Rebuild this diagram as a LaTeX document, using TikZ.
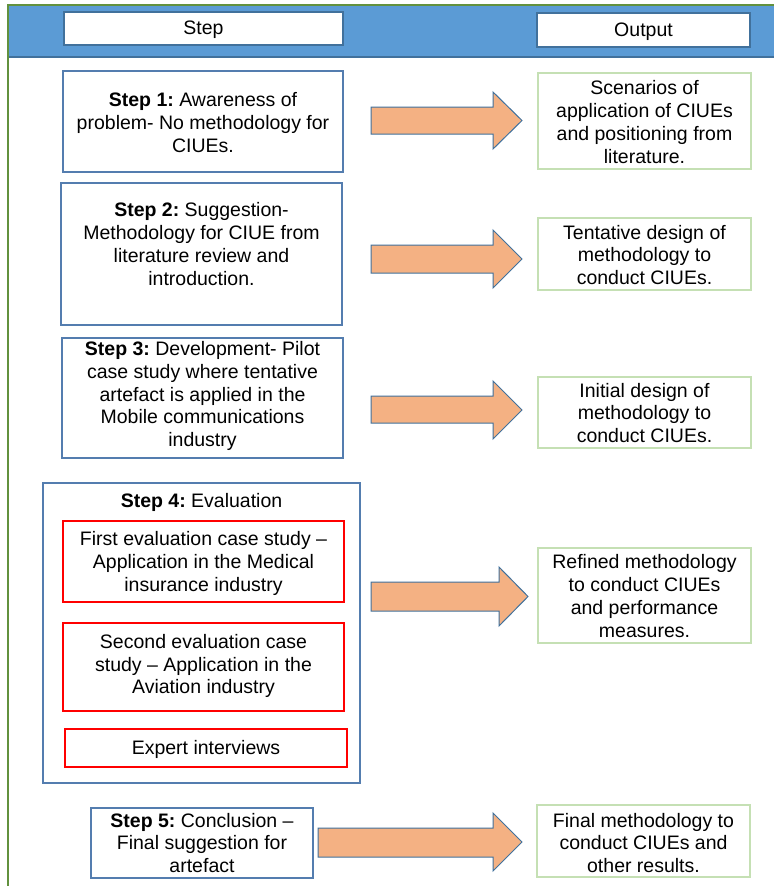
\documentclass[tikz,border=0pt]{standalone}
\usepackage{fontspec}
\setmainfont{Liberation Sans}
\frenchspacing
\definecolor{hdrblue}{RGB}{91,155,213}
\definecolor{hdrborder}{RGB}{65,113,156}
\definecolor{framegreen}{RGB}{98,145,62}
\definecolor{stepblue}{RGB}{84,125,175}
\definecolor{outgreen}{RGB}{197,224,180}
\definecolor{arrowfill}{RGB}{244,177,131}
\definecolor{arrowborder}{RGB}{65,113,156}
\definecolor{redline}{RGB}{255,0,0}
\begin{document}
\begin{tikzpicture}[x=1pt,y=-1pt,
  every node/.style={font=\fontsize{19.5}{22.8}\selectfont, align=center, inner sep=0pt},
  stepbox/.style={draw=stepblue, line width=1.2pt},
  outbox/.style={draw=outgreen, line width=1.4pt},
  redbox/.style={draw=redline, line width=1.2pt},
  hdrbox/.style={draw=hdrborder, fill=white, line width=1.6pt},
  bigarrow/.style={fill=arrowfill, draw=arrowborder, line width=1pt, line join=miter}]
\useasboundingbox (0,0) rectangle (774,886);
\fill[white] (0,0) rectangle (774,886);
% header band and frame
\fill[hdrblue] (8,5) rectangle (774,57);
\draw[hdrborder, line width=1.2pt] (8,57) -- (774,57);
\draw[framegreen, line width=2pt] (8,886) -- (8,4.5) -- (774,4.5);
% header boxes
\node[hdrbox, minimum width=279, minimum height=33] (hstep) at (203.5,28.5) {};
\node (hstept) at (203.5,30) {Step};
\node[hdrbox, minimum width=213, minimum height=34] (hout) at (643.5,30) {};
\node (houtt) at (643.5,31.5) {Output};
% step boxes
\node[stepbox, minimum width=280, minimum height=101] (s1) at (203,121.5) {};
\node (s1t) at (203,122.5) {\textbf{Step 1:} Awareness of\\problem- No methodology for\\CIUEs.};
\node[stepbox, minimum width=281, minimum height=142] (s2) at (201.5,254) {};
\node (s2t) at (201.5,244) {\textbf{Step 2:} Suggestion-\\Methodology for CIUE from\\literature review and\\introduction.};
\node[stepbox, minimum width=281, minimum height=120] (s3) at (202.5,398) {};
\node (s3t) at (202.5,396) {\textbf{Step 3:} Development- Pilot\\case study where tentative\\artefact is applied in the\\Mobile communications\\industry};
\node[stepbox, minimum width=317, minimum height=300] (s4) at (201.5,633) {};
\node (s4t) at (201.5,502) {\textbf{Step 4:} Evaluation};
\node[redbox, minimum width=281, minimum height=81] (r1) at (203.5,561.5) {};
\node (r1t) at (203.5,563.5) {First evaluation case study --\\Application in the Medical\\insurance industry};
\node[redbox, minimum width=281, minimum height=88] (r2) at (203.5,667) {};
\node (r2t) at (203.5,666) {Second evaluation case\\study -- Application in the\\Aviation industry};
\node[redbox, minimum width=282, minimum height=38] (r3) at (206,748) {};
\node (r3t) at (206,749) {Expert interviews};
\node[stepbox, minimum width=222, minimum height=70] (s5) at (202,843) {};
\node (s5t) at (202,843) {\textbf{Step 5:} Conclusion --\\Final suggestion for\\artefact};
% output boxes
\node[outbox, minimum width=213, minimum height=96] (o1) at (644.5,121) {};
\node (o1t) at (644.5,122) {Scenarios of\\application of CIUEs\\and positioning from\\literature.};
\node[outbox, minimum width=213, minimum height=72] (o2) at (644.5,254) {};
\node (o2t) at (644.5,255) {Tentative design of\\methodology to\\conduct CIUEs.};
\node[outbox, minimum width=213, minimum height=71] (o3) at (644.5,412.5) {};
\node (o3t) at (644.5,413) {Initial design of\\methodology to\\conduct CIUEs.};
\node[outbox, minimum width=213, minimum height=95] (o4) at (644.5,595.5) {};
\node (o4t) at (644.5,596) {Refined methodology\\to conduct CIUEs\\and performance\\measures.};
\node[outbox, minimum width=213, minimum height=72] (o5) at (643.5,841) {};
\node (o5t) at (643.5,843) {Final methodology to\\conduct CIUEs and\\other results.};
% block arrows
\draw[bigarrow] (371,107) -- (493,107) -- (493,92) -- (522,120.5) -- (493,149) -- (493,134) -- (371,134) -- cycle;
\draw[bigarrow] (371,245) -- (493,245) -- (493,230) -- (522,259) -- (493,288) -- (493,273) -- (371,273) -- cycle;
\draw[bigarrow] (371,396) -- (493,396) -- (493,381) -- (522,410) -- (493,439) -- (493,423) -- (371,423) -- cycle;
\draw[bigarrow] (371,582) -- (499,582) -- (499,567) -- (528,596.5) -- (499,626) -- (499,611) -- (371,611) -- cycle;
\draw[bigarrow] (318,828) -- (493,828) -- (493,813) -- (522,842) -- (493,871) -- (493,857) -- (318,857) -- cycle;
\end{tikzpicture}
\end{document}
